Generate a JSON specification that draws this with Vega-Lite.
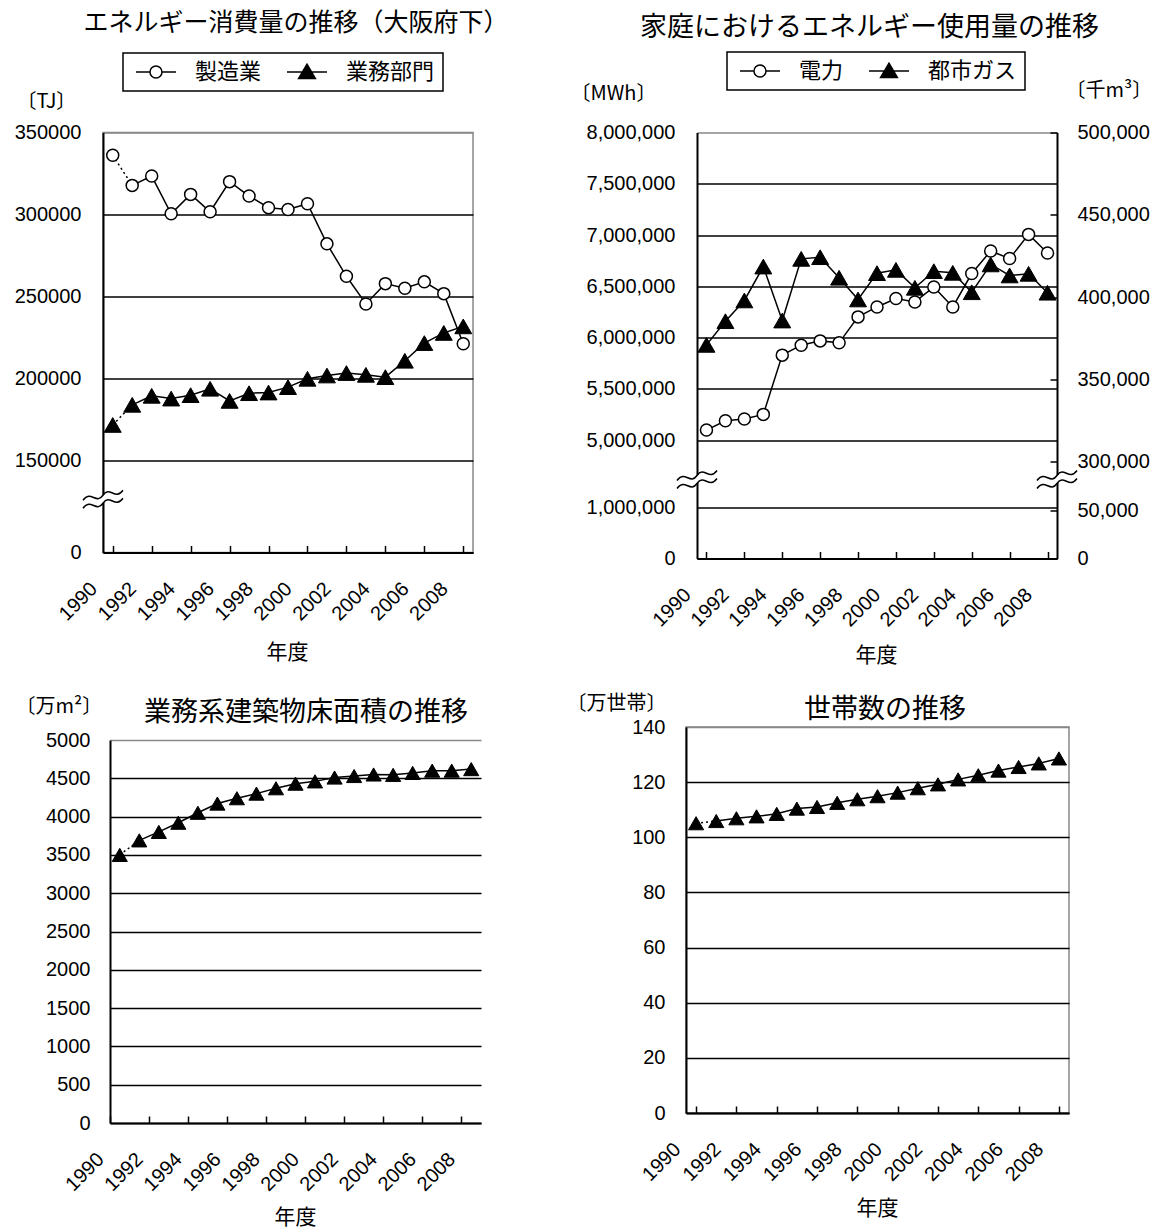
{
  "$schema": "https://vega.github.io/schema/vega-lite/v6.json",
  "autosize": {"type": "none"},
  "padding": {"left": 103, "top": 132.5, "right": 1062, "bottom": 1095.5},
  "background": "white",
  "columns": 2,
  "bounds": "flush",
  "spacing": {"row": 168.5, "column": 205},
  "resolve": {"scale": {"shape": "independent", "fill": "independent", "stroke": "independent"}, "legend": {"shape": "independent", "fill": "independent", "stroke": "independent"}},
  "datasets": {
    "energy": [
      {"year": 1990, "series": "製造業", "value": 336100}, {"year": 1991, "series": "製造業", "value": 317700},
      {"year": 1992, "series": "製造業", "value": 323400}, {"year": 1993, "series": "製造業", "value": 300400},
      {"year": 1994, "series": "製造業", "value": 312200}, {"year": 1995, "series": "製造業", "value": 301600},
      {"year": 1996, "series": "製造業", "value": 320000}, {"year": 1997, "series": "製造業", "value": 311200},
      {"year": 1998, "series": "製造業", "value": 304100}, {"year": 1999, "series": "製造業", "value": 303000},
      {"year": 2000, "series": "製造業", "value": 306500}, {"year": 2001, "series": "製造業", "value": 282000},
      {"year": 2002, "series": "製造業", "value": 262200}, {"year": 2003, "series": "製造業", "value": 245300},
      {"year": 2004, "series": "製造業", "value": 257700}, {"year": 2005, "series": "製造業", "value": 254900},
      {"year": 2006, "series": "製造業", "value": 258800}, {"year": 2007, "series": "製造業", "value": 251600},
      {"year": 2008, "series": "製造業", "value": 221000},
      {"year": 1990, "series": "業務部門", "value": 171400}, {"year": 1991, "series": "業務部門", "value": 183700},
      {"year": 1992, "series": "業務部門", "value": 189200}, {"year": 1993, "series": "業務部門", "value": 187500},
      {"year": 1994, "series": "業務部門", "value": 189600}, {"year": 1995, "series": "業務部門", "value": 193500},
      {"year": 1996, "series": "業務部門", "value": 186100}, {"year": 1997, "series": "業務部門", "value": 190800},
      {"year": 1998, "series": "業務部門", "value": 191200}, {"year": 1999, "series": "業務部門", "value": 194500},
      {"year": 2000, "series": "業務部門", "value": 199600}, {"year": 2001, "series": "業務部門", "value": 201600},
      {"year": 2002, "series": "業務部門", "value": 203100}, {"year": 2003, "series": "業務部門", "value": 202000},
      {"year": 2004, "series": "業務部門", "value": 200600}, {"year": 2005, "series": "業務部門", "value": 210600},
      {"year": 2006, "series": "業務部門", "value": 221400}, {"year": 2007, "series": "業務部門", "value": 227600},
      {"year": 2008, "series": "業務部門", "value": 231600}
    ],
    "home": [
      {"year": 1990, "series": "電力", "value": 5097000}, {"year": 1991, "series": "電力", "value": 5188000},
      {"year": 1992, "series": "電力", "value": 5205000}, {"year": 1993, "series": "電力", "value": 5250000},
      {"year": 1994, "series": "電力", "value": 5828000}, {"year": 1995, "series": "電力", "value": 5925000},
      {"year": 1996, "series": "電力", "value": 5967000}, {"year": 1997, "series": "電力", "value": 5948000},
      {"year": 1998, "series": "電力", "value": 6201000}, {"year": 1999, "series": "電力", "value": 6298000},
      {"year": 2000, "series": "電力", "value": 6380000}, {"year": 2001, "series": "電力", "value": 6347000},
      {"year": 2002, "series": "電力", "value": 6493000}, {"year": 2003, "series": "電力", "value": 6298000},
      {"year": 2004, "series": "電力", "value": 6624000}, {"year": 2005, "series": "電力", "value": 6844000},
      {"year": 2006, "series": "電力", "value": 6770000}, {"year": 2007, "series": "電力", "value": 7006000},
      {"year": 2008, "series": "電力", "value": 6824000},
      {"year": 1990, "series": "都市ガス", "value": 370900}, {"year": 1991, "series": "都市ガス", "value": 385300},
      {"year": 1992, "series": "都市ガス", "value": 397900}, {"year": 1993, "series": "都市ガス", "value": 418500},
      {"year": 1994, "series": "都市ガス", "value": 385700}, {"year": 1995, "series": "都市ガス", "value": 423200},
      {"year": 1996, "series": "都市ガス", "value": 424200}, {"year": 1997, "series": "都市ガス", "value": 411700},
      {"year": 1998, "series": "都市ガス", "value": 398500}, {"year": 1999, "series": "都市ガス", "value": 414500},
      {"year": 2000, "series": "都市ガス", "value": 416500}, {"year": 2001, "series": "都市ガス", "value": 405600},
      {"year": 2002, "series": "都市ガス", "value": 415700}, {"year": 2003, "series": "都市ガス", "value": 414700},
      {"year": 2004, "series": "都市ガス", "value": 402900}, {"year": 2005, "series": "都市ガス", "value": 419800},
      {"year": 2006, "series": "都市ガス", "value": 413100}, {"year": 2007, "series": "都市ガス", "value": 414100},
      {"year": 2008, "series": "都市ガス", "value": 402600}
    ],
    "floor": [
      {"year": 1990, "value": 3500}, {"year": 1991, "value": 3690}, {"year": 1992, "value": 3800},
      {"year": 1993, "value": 3920}, {"year": 1994, "value": 4050}, {"year": 1995, "value": 4170},
      {"year": 1996, "value": 4240}, {"year": 1997, "value": 4300}, {"year": 1998, "value": 4370},
      {"year": 1999, "value": 4430}, {"year": 2000, "value": 4460}, {"year": 2001, "value": 4510},
      {"year": 2002, "value": 4530}, {"year": 2003, "value": 4550}, {"year": 2004, "value": 4545},
      {"year": 2005, "value": 4570}, {"year": 2006, "value": 4600}, {"year": 2007, "value": 4600},
      {"year": 2008, "value": 4620}
    ],
    "households": [
      {"year": 1990, "value": 105.1}, {"year": 1991, "value": 105.9}, {"year": 1992, "value": 106.9},
      {"year": 1993, "value": 107.6}, {"year": 1994, "value": 108.5}, {"year": 1995, "value": 110.4},
      {"year": 1996, "value": 111.0}, {"year": 1997, "value": 112.5}, {"year": 1998, "value": 113.8},
      {"year": 1999, "value": 114.9}, {"year": 2000, "value": 116.2}, {"year": 2001, "value": 117.8},
      {"year": 2002, "value": 119.2}, {"year": 2003, "value": 121.0}, {"year": 2004, "value": 122.5},
      {"year": 2005, "value": 124.2}, {"year": 2006, "value": 125.5}, {"year": 2007, "value": 126.8},
      {"year": 2008, "value": 128.6}
    ]
  },
  "concat": [
    {
      "width": 370, "height": 420,
      "title": {"text": "エネルギー消費量の推移（大阪府下）", "fontSize": 25, "dx": 8, "dy": -12},
      "data": {"name": "energy"},
      "encoding": {
        "x": {"field": "year", "type": "ordinal",
          "scale": {"domain": [1990,1991,1992,1993,1994,1995,1996,1997,1998,1999,2000,2001,2002,2003,2004,2005,2006,2007,2008], "paddingInner": 0, "paddingOuter": 0},
          "axis": {"values": [1990,1992,1994,1996,1998,2000,2002,2004,2006,2008], "bandPosition": 0, "labelAngle": -45, "labelAlign": "right", "labelBaseline": "middle", "labelPadding": 40, "labelOffset": -19, "ticks": true, "tickSize": -7, "grid": false,
            "title": "年度", "titleFontSize": 21, "titleAlign": "center", "titleBaseline": "middle", "titleX": 184, "titleY": 99.5}},
        "y": {"field": "value", "type": "quantitative",
          "scale": {"domain": [0, 150000, 350000], "range": [420, 327.5, 0], "nice": false, "zero": false},
          "axis": {"values": [0, 150000, 200000, 250000, 300000, 350000], "format": "d", "ticks": false, "labelPadding": 22,
            "grid": true, "gridColor": {"condition": {"test": "datum.value === 350000", "value": "#888888"}, "value": "black"},
            "title": "〔TJ〕", "titleAngle": 0, "titleAlign": "left", "titleBaseline": "middle", "titleX": -87, "titleY": -31.5}}
      },
      "layer": [
        {"transform": [{"filter": "datum.year >= 1991"}], "mark": {"type": "line", "color": "black", "strokeWidth": 1.5}, "encoding": {"detail": {"field": "series", "type": "nominal"}}},
        {"transform": [{"filter": "datum.year <= 1991"}], "mark": {"type": "line", "color": "black", "strokeWidth": 1.5, "strokeDash": [2, 3]}, "encoding": {"detail": {"field": "series", "type": "nominal"}}},
        {"transform": [{"filter": "datum.series === '製造業'"}], "mark": {"type": "point", "shape": "circle", "filled": true, "fill": "white", "stroke": "black", "strokeWidth": 1.5, "size": 144, "opacity": 1}},
        {"transform": [{"filter": "datum.series === '業務部門'"}], "mark": {"type": "point", "shape": "M0,-0.93L1.07,0.93L-1.07,0.93Z", "filled": true, "fill": "black", "stroke": "black", "strokeWidth": 1, "size": 250, "opacity": 1}},
        {"mark": {"type": "point", "filled": true, "opacity": 0, "stroke": "black", "strokeWidth": 1.5},
          "encoding": {
            "shape": {"field": "series", "type": "nominal", "scale": {"domain": ["製造業", "業務部門"], "range": ["M-1,0L1.33,0M3.33,0L5.67,0M3.33,0A1,1,0,1,0,1.33,0A1,1,0,1,0,3.33,0Z", "M-1,0L5.67,0M2.33,-1.3L3.73,1.1L0.93,1.1Z"]},
              "legend": {"title": null, "orient": "none", "legendX": 20, "legendY": -79.5, "direction": "horizontal", "symbolStrokeColor": "black"}},
            "fill": {"field": "series", "type": "nominal", "scale": {"domain": ["製造業", "業務部門"], "range": ["white", "black"]},
              "legend": {"title": null, "orient": "none", "legendX": 20, "legendY": -79.5, "direction": "horizontal", "symbolStrokeColor": "black"}},
            "stroke": {"field": "series", "type": "nominal", "scale": {"domain": ["製造業", "業務部門"], "range": ["black", "black"]},
              "legend": {"title": null, "orient": "none", "legendX": 20, "legendY": -79.5, "direction": "horizontal", "symbolStrokeColor": "black"}}
          }},
        {"data": {"values": [{"year": 1990, "value": 88000}]}, "mark": {"type": "point", "shape": "M-0.25,-0.1L0.25,-0.25L0.25,0.15L-0.25,0.3Z", "size": 1600, "filled": true, "fill": "white", "strokeWidth": 0, "opacity": 1, "xOffset": -9.74}},
        {"data": {"values": [{"year": 1990, "value": 88000}]}, "mark": {"type": "point", "shape": "M-1,0.1C-0.6,-0.45,-0.35,0.35,0,-0.15C0.35,-0.65,0.6,0.15,1,-0.4M-1,0.5C-0.6,-0.05,-0.35,0.75,0,0.25C0.35,-0.25,0.6,0.55,1,0", "size": 1600, "filled": false, "stroke": "black", "strokeWidth": 1.5, "opacity": 1, "xOffset": -9.74}}
      ]
    },
    {
      "width": 371, "height": 426,
      "view": {"stroke": null},
      "title": {"text": "家庭におけるエネルギー使用量の推移", "fontSize": 27, "dx": -2, "dy": -5},
      "data": {"name": "home"},
      "encoding": {
        "x": {"field": "year", "type": "ordinal",
          "scale": {"domain": [1990,1991,1992,1993,1994,1995,1996,1997,1998,1999,2000,2001,2002,2003,2004,2005,2006,2007,2008], "range": [11, 371], "paddingInner": 0, "paddingOuter": 0},
          "axis": {"values": [1990,1992,1994,1996,1998,2000,2002,2004,2006,2008], "bandPosition": 0, "labelAngle": -45, "labelAlign": "right", "labelBaseline": "middle", "labelPadding": 40, "labelOffset": -19, "ticks": true, "tickSize": -7, "grid": false,
            "title": "年度", "titleFontSize": 21, "titleAlign": "center", "titleBaseline": "middle", "titleX": 190, "titleY": 97}}
      },
      "layer": [
        {
          "encoding": {"y": {"field": "value", "type": "quantitative",
            "scale": {"domain": [0, 1000000, 5000000, 8000000], "range": [426, 374.5, 307.5, 0], "nice": false, "zero": false},
            "axis": {"values": [0, 1000000, 5000000, 5500000, 6000000, 6500000, 7000000, 7500000, 8000000], "format": ",d", "ticks": false, "labelPadding": 22, "offset": -11,
              "grid": true, "gridColor": {"condition": {"test": "datum.value === 8000000", "value": "#888888"}, "value": "black"},
              "title": "〔MWh〕", "titleAngle": 0, "titleAlign": "left", "titleBaseline": "middle", "titleX": -127, "titleY": -39.5}}},
          "layer": [
            {"transform": [{"filter": "datum.series === '電力'"}], "mark": {"type": "line", "color": "black", "strokeWidth": 1.5}},
            {"transform": [{"filter": "datum.series === '電力'"}], "mark": {"type": "point", "shape": "circle", "filled": true, "fill": "white", "stroke": "black", "strokeWidth": 1.5, "size": 144, "opacity": 1}},
            {"mark": {"type": "point", "filled": true, "opacity": 0, "stroke": "black", "strokeWidth": 1.5},
              "encoding": {
                "shape": {"field": "series", "type": "nominal", "scale": {"domain": ["電力", "都市ガス"], "range": ["M-1,0L1.33,0M3.33,0L5.67,0M3.33,0A1,1,0,1,0,1.33,0A1,1,0,1,0,3.33,0Z", "M-1,0L5.67,0M2.33,-1.3L3.73,1.1L0.93,1.1Z"]},
                  "legend": {"title": null, "orient": "none", "legendX": 41, "legendY": -80.5, "direction": "horizontal", "symbolStrokeColor": "black"}},
                "fill": {"field": "series", "type": "nominal", "scale": {"domain": ["電力", "都市ガス"], "range": ["white", "black"]},
                  "legend": {"title": null, "orient": "none", "legendX": 41, "legendY": -80.5, "direction": "horizontal", "symbolStrokeColor": "black"}},
                "stroke": {"field": "series", "type": "nominal", "scale": {"domain": ["電力", "都市ガス"], "range": ["black", "black"]},
                  "legend": {"title": null, "orient": "none", "legendX": 41, "legendY": -80.5, "direction": "horizontal", "symbolStrokeColor": "black"}}
              }},
            {"data": {"values": [{"year": 1990, "value": 2700000}]}, "mark": {"type": "point", "shape": "M-0.25,-0.1L0.25,-0.25L0.25,0.15L-0.25,0.3Z", "size": 1600, "filled": true, "fill": "white", "strokeWidth": 0, "opacity": 1, "xOffset": -9.47}},
            {"data": {"values": [{"year": 1990, "value": 2700000}]}, "mark": {"type": "point", "shape": "M-1,0.1C-0.6,-0.45,-0.35,0.35,0,-0.15C0.35,-0.65,0.6,0.15,1,-0.4M-1,0.5C-0.6,-0.05,-0.35,0.75,0,0.25C0.35,-0.25,0.6,0.55,1,0", "size": 1600, "filled": false, "stroke": "black", "strokeWidth": 1.5, "opacity": 1, "xOffset": -9.47}},
            {"data": {"values": [{"year": 2008, "value": 2700000}]}, "mark": {"type": "point", "shape": "M-0.25,-0.1L0.25,-0.25L0.25,0.15L-0.25,0.3Z", "size": 1600, "filled": true, "fill": "white", "strokeWidth": 0, "opacity": 1, "xOffset": 9.47}},
            {"data": {"values": [{"year": 2008, "value": 2700000}]}, "mark": {"type": "point", "shape": "M-1,0.1C-0.6,-0.45,-0.35,0.35,0,-0.15C0.35,-0.65,0.6,0.15,1,-0.4M-1,0.5C-0.6,-0.05,-0.35,0.75,0,0.25C0.35,-0.25,0.6,0.55,1,0", "size": 1600, "filled": false, "stroke": "black", "strokeWidth": 1.5, "opacity": 1, "xOffset": 9.47}}
          ]
        },
        {
          "encoding": {"y": {"field": "value", "type": "quantitative",
            "scale": {"domain": [0, 50000, 300000, 500000], "range": [426, 377.5, 329, 0], "nice": false, "zero": false},
            "axis": {"orient": "right", "values": [0, 50000, 300000, 350000, 400000, 450000, 500000], "format": ",d", "ticks": true, "tickSize": -7, "labelPadding": 27, "grid": false,
              "title": "〔千m³〕", "titleAngle": 0, "titleAlign": "left", "titleBaseline": "middle", "titleX": 8, "titleY": -42.5}}},
          "layer": [
            {"transform": [{"filter": "datum.series === '都市ガス'"}], "mark": {"type": "line", "color": "black", "strokeWidth": 1.5}},
            {"transform": [{"filter": "datum.series === '都市ガス'"}], "mark": {"type": "point", "shape": "M0,-0.93L1.07,0.93L-1.07,0.93Z", "filled": true, "fill": "black", "stroke": "black", "strokeWidth": 1, "size": 250, "opacity": 1}}
          ]
        }
      ],
      "resolve": {"scale": {"y": "independent"}}
    },
    {
      "width": 378, "height": 396,
      "view": {"stroke": null},
      "title": {"text": "業務系建築物床面積の推移", "fontSize": 27, "dx": 14, "dy": 35},
      "data": {"name": "floor"},
      "encoding": {
        "x": {"field": "year", "type": "ordinal",
          "scale": {"domain": [1990,1991,1992,1993,1994,1995,1996,1997,1998,1999,2000,2001,2002,2003,2004,2005,2006,2007,2008], "range": [7, 378], "paddingInner": 0, "paddingOuter": 0},
          "axis": {"values": [1990,1992,1994,1996,1998,2000,2002,2004,2006,2008], "bandPosition": 0, "labelAngle": -45, "labelAlign": "right", "labelBaseline": "middle", "labelPadding": 40, "labelOffset": -19, "ticks": true, "tickSize": -7, "grid": false,
            "title": "年度", "titleFontSize": 21, "titleAlign": "center", "titleBaseline": "middle", "titleX": 192, "titleY": 94}},
        "y": {"field": "value", "type": "quantitative",
          "scale": {"domain": [0, 5000], "range": [396, 13], "nice": false},
          "axis": {"values": [0, 500, 1000, 1500, 2000, 2500, 3000, 3500, 4000, 4500, 5000], "format": "d", "ticks": false, "labelPadding": 20, "offset": -7,
            "grid": true, "gridColor": {"condition": {"test": "datum.value === 5000", "value": "#888888"}, "value": "black"},
            "title": "〔万m²〕", "titleAngle": 0, "titleAlign": "left", "titleBaseline": "middle", "titleX": -95, "titleY": -21}}
      },
      "layer": [
        {"transform": [{"filter": "datum.year >= 1991"}], "mark": {"type": "line", "color": "black", "strokeWidth": 1.5}},
        {"transform": [{"filter": "datum.year <= 1991"}], "mark": {"type": "line", "color": "black", "strokeWidth": 1.5, "strokeDash": [2, 3]}},
        {"mark": {"type": "point", "shape": "M0,-0.93L1.07,0.93L-1.07,0.93Z", "filled": true, "fill": "black", "stroke": "black", "strokeWidth": 1, "size": 200, "opacity": 1}},
        {"data": {"values": [{"k": 1}]}, "mark": {"type": "rule", "color": "#888888", "strokeWidth": 1.5},
          "encoding": {"x": {"datum": 2008, "type": "ordinal", "bandPosition": 1}, "y": {"datum": 0, "type": "quantitative"}, "y2": {"datum": 5000}}}
      ]
    },
    {
      "width": 383, "height": 386,
      "title": {"text": "世帯数の推移", "fontSize": 27, "dx": 7.5, "dy": 35},
      "data": {"name": "households"},
      "encoding": {
        "x": {"field": "year", "type": "ordinal",
          "scale": {"domain": [1990,1991,1992,1993,1994,1995,1996,1997,1998,1999,2000,2001,2002,2003,2004,2005,2006,2007,2008], "paddingInner": 0, "paddingOuter": 0},
          "axis": {"values": [1990,1992,1994,1996,1998,2000,2002,2004,2006,2008], "bandPosition": 0, "labelAngle": -45, "labelAlign": "right", "labelBaseline": "middle", "labelPadding": 40, "labelOffset": -19, "ticks": true, "tickSize": -7, "grid": false,
            "title": "年度", "titleFontSize": 21, "titleAlign": "center", "titleBaseline": "middle", "titleX": 191, "titleY": 95}},
        "y": {"field": "value", "type": "quantitative",
          "scale": {"domain": [0, 140], "nice": false},
          "axis": {"values": [0, 20, 40, 60, 80, 100, 120, 140], "format": "d", "ticks": false, "labelPadding": 21,
            "grid": true, "gridColor": {"condition": {"test": "datum.value === 140", "value": "#888888"}, "value": "black"},
            "title": "〔万世帯〕", "titleAngle": 0, "titleAlign": "left", "titleBaseline": "middle", "titleX": -120, "titleY": -24}}
      },
      "layer": [
        {"transform": [{"filter": "datum.year >= 1991"}], "mark": {"type": "line", "color": "black", "strokeWidth": 1.5}},
        {"transform": [{"filter": "datum.year <= 1991"}], "mark": {"type": "line", "color": "black", "strokeWidth": 1.5, "strokeDash": [2, 3]}},
        {"mark": {"type": "point", "shape": "M0,-0.93L1.07,0.93L-1.07,0.93Z", "filled": true, "fill": "black", "stroke": "black", "strokeWidth": 1, "size": 200, "opacity": 1}}
      ]
    }
  ],
  "config": {
    "view": {"stroke": "#888888", "strokeWidth": 1.5},
    "axis": {"labelFont": "Liberation Sans", "labelFontSize": 20, "labelColor": "black", "domainColor": "black", "domainWidth": 2,
      "tickColor": "black", "tickWidth": 1.5, "gridColor": "black", "gridWidth": 1.5, "titleFont": "Noto Sans CJK JP", "titleFontWeight": "normal",
      "titleColor": "black", "titleFontSize": 20, "zindex": 0, "labelOverlap": false, "labelFlush": false},
    "title": {"font": "Noto Sans CJK JP", "fontWeight": "normal", "color": "black", "frame": "group", "anchor": "middle"},
    "legend": {"strokeColor": "black", "strokeWidth": 1.5, "labelFont": "Noto Sans CJK JP", "labelFontSize": 22, "labelColor": "black",
      "padding": 8, "symbolStrokeColor": "black", "symbolStrokeWidth": 1.5, "symbolOpacity": 1, "symbolSize": 144, "labelOffset": 42, "columnPadding": 20, "labelLimit": 0}
  }
}
